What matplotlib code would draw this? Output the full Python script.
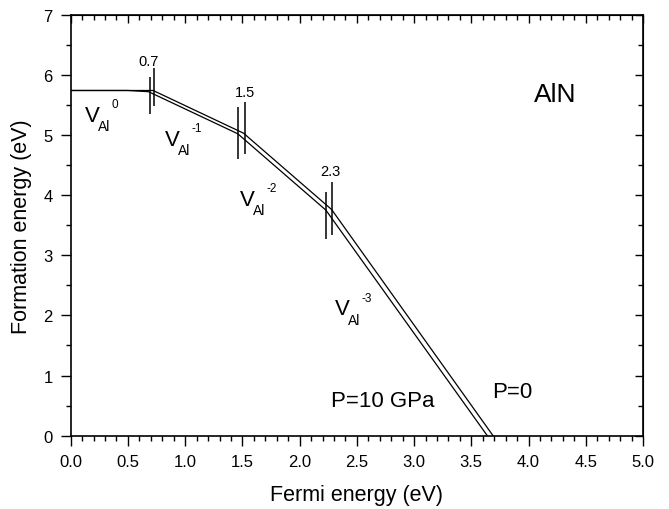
import matplotlib
matplotlib.use("Agg")
import matplotlib.pyplot as plt
from matplotlib.ticker import MultipleLocator

plt.rcParams['font.family'] = ['Liberation Sans', 'DejaVu Sans']

# P=10 GPa curve (lower / left one)
e_10 = [0.0, 0.5, 0.68, 1.46, 2.23, 3.64]
f_10 = [5.74, 5.74, 5.72, 5.02, 3.75, 0.0]
# P=0 curve (upper / right one)
e_0 = [0.0, 0.72, 1.51, 2.28, 3.69]
f_0 = [5.74, 5.74, 5.03, 3.76, 0.0]

# transition level markers
mark_x_10 = [0.69, 1.46, 2.23]
mark_lo_10 = [5.35, 4.60, 3.27]
mark_hi_10 = [5.96, 5.47, 4.05]
mark_x_0 = [0.73, 1.52, 2.28]
mark_lo_0 = [5.48, 4.68, 3.34]
mark_hi_0 = [6.11, 5.55, 4.22]

level_labels = ['0.7', '1.5', '2.3']
level_pos = [(0.68, 6.23), (1.52, 5.71), (2.27, 4.40)]

charges = ['0', '-1', '-2', '-3']
v_pos = [(0.125, 5.24), (0.824, 4.84), (1.48, 3.84), (2.31, 2.02)]

fig = plt.figure(figsize=(6.69, 5.10), dpi=100)
ax = fig.add_axes([0.1057, 0.1437, 0.8554, 0.8255])

ax.plot(e_10, f_10, color='black', lw=0.9)
ax.plot(e_0, f_0, color='black', lw=0.9)
ax.vlines(mark_x_10, mark_lo_10, mark_hi_10, color='black', lw=1.1)
ax.vlines(mark_x_0, mark_lo_0, mark_hi_0, color='black', lw=1.1)

for lab, (x, y) in zip(level_labels, level_pos):
    ax.text(x, y, lab, fontsize=10.5, ha='center', va='center')

for q, (x, y) in zip(charges, v_pos):
    ax.annotate('V', (x, y), fontsize=16, ha='left', va='baseline')
    ax.annotate('Al', (x, y), xytext=(9.0, -7.0), textcoords='offset points',
                fontsize=10, ha='left', va='baseline')
    ax.annotate(q, (x, y), xytext=(19.0, 9.8), textcoords='offset points',
                fontsize=8.5, ha='left', va='baseline')

ax.text(4.23, 5.68, 'AlN', fontsize=19, ha='center', va='center')
ax.text(2.27, 0.58, 'P=10 GPa', fontsize=16, ha='left', va='center')
ax.text(3.68, 0.74, 'P=0', fontsize=16, ha='left', va='center')

ax.set_xlim(0, 5)
ax.set_ylim(0, 7)
ax.xaxis.set_major_locator(MultipleLocator(0.5))
ax.xaxis.set_minor_locator(MultipleLocator(0.1))
ax.yaxis.set_major_locator(MultipleLocator(1))
ax.yaxis.set_minor_locator(MultipleLocator(0.5))
ax.xaxis.set_major_formatter(plt.FormatStrFormatter('%.1f'))
ax.tick_params(which='major', direction='out', length=7, width=1.0, labelsize=12, pad=6)
ax.tick_params(which='minor', direction='out', length=3.5, width=1.0)
for s in ax.spines.values():
    s.set_linewidth(1.2)

top = ax.secondary_xaxis('top')
top.xaxis.set_major_locator(MultipleLocator(0.5))
top.xaxis.set_minor_locator(MultipleLocator(0.1))
top.tick_params(which='major', direction='in', length=6, width=1.0, labeltop=False)
top.tick_params(which='minor', direction='in', length=3.5, width=1.0)
right = ax.secondary_yaxis('right')
right.yaxis.set_major_locator(MultipleLocator(1))
right.yaxis.set_minor_locator(MultipleLocator(0.5))
right.tick_params(which='major', direction='in', length=6, width=1.0, labelright=False)
right.tick_params(which='minor', direction='in', length=3.5, width=1.0)

ax.set_xlabel('Fermi energy (eV)', fontsize=15.5, labelpad=11)
ax.set_ylabel('Formation energy (eV)', fontsize=15.5, labelpad=8)

fig.savefig('out.png', dpi=100)
